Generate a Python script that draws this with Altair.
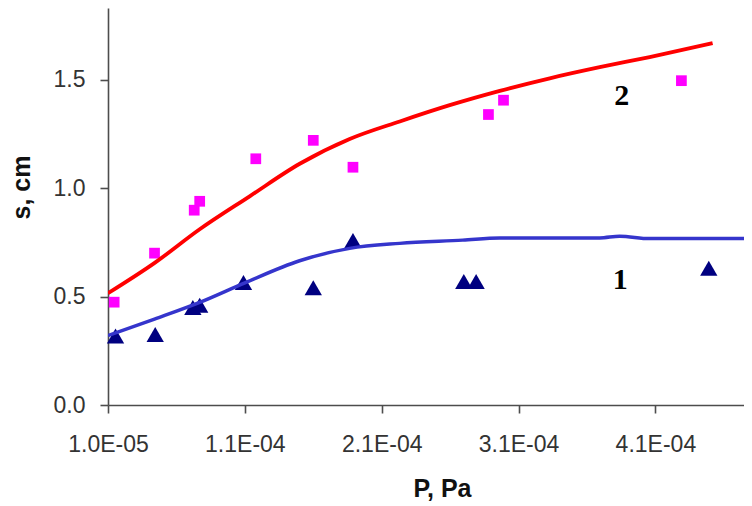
import altair as alt
import pandas as pd

# ---- data ----
sq_x = [1.45e-5, 4.4e-5, 7.3e-5, 7.7e-5, 1.18e-4, 1.60e-4, 1.89e-4, 2.88e-4, 2.99e-4, 4.29e-4]
sq_y = [0.474, 0.70, 0.898, 0.939, 1.135, 1.22, 1.096, 1.339, 1.405, 1.495]

tri_x = [1.55e-5, 4.45e-5, 7.2e-5, 7.7e-5, 1.09e-4, 1.60e-4, 1.89e-4, 2.70e-4, 2.79e-4, 4.49e-4]
tri_y = [0.318, 0.325, 0.45, 0.46, 0.565, 0.54, 0.758, 0.569, 0.569, 0.63]

red_x = [1.0e-5, 4.41e-5, 7.70e-5, 1.135e-4, 1.501e-4, 1.866e-4, 2.232e-4, 2.597e-4, 2.963e-4, 3.328e-4, 3.693e-4, 4.058e-4, 4.518e-4]
red_y = [0.515, 0.655, 0.81, 0.962, 1.112, 1.226, 1.307, 1.382, 1.448, 1.506, 1.557, 1.604, 1.668]

blue_x = [1.0e-5, 4.4e-5, 7.7e-5, 1.1e-4, 1.5e-4, 1.866e-4, 2.231e-4, 2.692e-4, 2.962e-4, 3.693e-4, 3.839e-4, 4.058e-4, 4.85e-4]
blue_y = [0.32, 0.396, 0.473, 0.563, 0.665, 0.722, 0.745, 0.76, 0.77, 0.77, 0.778, 0.767, 0.767]

x_ticks = [1.0e-5, 1.1e-4, 2.1e-4, 3.1e-4, 4.1e-4]
y_ticks = [0.0, 0.5, 1.0, 1.5]
x_domain = [1.0e-5, 4.7474e-4]
y_domain = [0.0, 1.83]

label_text = ["2", "1"]
label_x = [3.854e-4, 3.843e-4]
label_y = [1.426, 0.578]

df_sq = pd.DataFrame({"P": sq_x, "s": sq_y})
df_tri = pd.DataFrame({"P": tri_x, "s": tri_y})
df_red = pd.DataFrame({"P": red_x, "s": red_y})
df_blue = pd.DataFrame({"P": blue_x, "s": blue_y})
df_lab = pd.DataFrame({"P": label_x, "s": label_y, "t": label_text})

AX_COLOR = "#4d4d4d"
LBL_COLOR = "#333333"

x_enc = alt.X(
    "P:Q",
    scale=alt.Scale(domain=x_domain, nice=False, zero=False),
    axis=alt.Axis(
        values=x_ticks,
        labelExpr="replace(upper(format(datum.value, '.1e')), 'E-', 'E-0')",
        title="P, Pa",
        grid=False,
        domainColor=AX_COLOR, domainWidth=1.6,
        tickColor=AX_COLOR, tickWidth=1.6, tickSize=8,
        labelFont="Liberation Sans", labelFontSize=23, labelColor=LBL_COLOR,
        labelPadding=31, labelBaseline="middle", labelFlush=False,
        titleFont="Liberation Sans", titleFontSize=25, titleFontWeight="bold",
        titleColor="#111111", titleX=334, titleY=83, titleAlign="center",
        titleBaseline="middle", titleAnchor="start",
    ),
)
y_enc = alt.Y(
    "s:Q",
    scale=alt.Scale(domain=y_domain, nice=False, zero=True),
    axis=alt.Axis(
        values=y_ticks,
        format=".1f",
        title="s, cm",
        grid=False,
        domainColor=AX_COLOR, domainWidth=1.6,
        tickColor=AX_COLOR, tickWidth=1.6, tickSize=8,
        labelFont="Liberation Sans", labelFontSize=23, labelColor=LBL_COLOR,
        labelPadding=15, labelFlush=False,
        titleFont="Liberation Sans", titleFontSize=25, titleFontWeight="bold",
        titleColor="#111111", titleX=-87, titleY=179, titleAngle=-90,
        titleAlign="center", titleBaseline="middle", titleAnchor="start",
    ),
)

squares = alt.Chart(df_sq).mark_point(
    shape="square", filled=True, size=115, color="#ff00ff", opacity=1
).encode(x=x_enc, y=y_enc)

triangles = alt.Chart(df_tri).mark_point(
    shape="triangle-up", filled=True, size=300, color="#000080", opacity=1
).encode(x=x_enc, y=y_enc)

red_line = alt.Chart(df_red).mark_line(
    color="#ff0000", strokeWidth=3.8, interpolate="monotone", clip=True
).encode(x=x_enc, y=y_enc)

blue_line = alt.Chart(df_blue).mark_line(
    color="#3535cc", strokeWidth=3.5, interpolate="monotone", clip=True
).encode(x=x_enc, y=y_enc)

labels = alt.Chart(df_lab).mark_text(
    font="Liberation Serif", fontSize=30, fontWeight="bold", color="#000000",
    baseline="middle", align="center"
).encode(x=x_enc, y=y_enc, text="t:N")

chart = alt.layer(squares, triangles, red_line, blue_line, labels).properties(
    width=636,
    height=397,
    autosize=alt.AutoSizeParams(type="none"),
    padding={"left": 100, "top": 0, "right": 0, "bottom": 100},
).configure_view(stroke=None)

chart.save("out.html", embed_options={"renderer": "svg", "actions": False})
